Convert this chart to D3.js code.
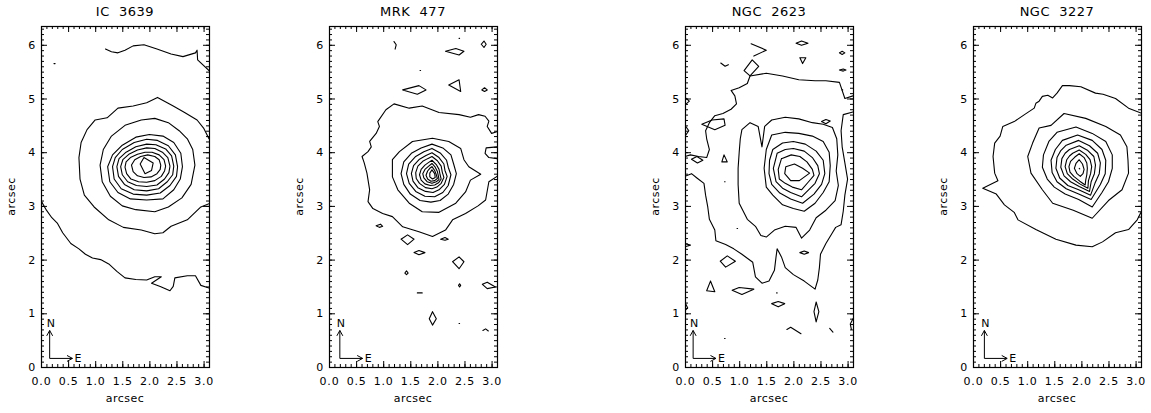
<!DOCTYPE html>
<html>
<head>
<meta charset="utf-8">
<script src="https://cdn.jsdelivr.net/npm/d3@7"></script>
<style>
  body { margin: 0; background: #fff; }
  svg { display: block; }
  text { font-family: "DejaVu Sans", "Liberation Sans", sans-serif; fill: #000; }
</style>
</head>
<body>
<div id="chart"></div>
<script>
// panel titles and tick values
var titles = ["IC  3639", "MRK  477", "NGC  2623", "NGC  3227"];
var xTicks = [0, 0.5, 1, 1.5, 2, 2.5, 3];
var yTicks = [0, 1, 2, 3, 4, 5, 6];

// contour lines, in arcsec [x, y]
var ic3639 = [
  [[1.19,5.92],[1.3,5.87],[1.42,5.85],[1.55,5.9],[1.7,5.98],[1.9,6.0],[2.14,5.92],[2.4,5.83],[2.62,5.78],[2.85,5.85],[2.88,5.9],[2.89,5.72],[3.1,5.52]],
  [[0.24,5.65],[0.26,5.65]],
  [[0,3.1],[0.1,2.92],[0.2,2.78],[0.3,2.68],[0.4,2.5],[0.55,2.3],[0.7,2.2],[0.82,2.1],[0.95,2.03],[1.1,2.0],[1.25,1.92],[1.4,1.78],[1.55,1.66],[1.75,1.63],[1.95,1.62],[2.1,1.68],[2.22,1.68],[2.04,1.56],[2.2,1.5],[2.38,1.42],[2.44,1.5],[2.47,1.66],[2.7,1.7],[2.85,1.7],[2.95,1.52],[3.1,1.47]],
  [[3.1,4.25],[3.0,4.45],[2.88,4.6],[2.65,4.74],[2.44,4.86],[2.15,5.02],[1.95,4.92],[1.7,4.86],[1.42,4.82],[1.22,4.64],[1.0,4.6],[0.85,4.42],[0.74,4.18],[0.7,3.9],[0.72,3.5],[0.8,3.2],[0.98,2.98],[1.25,2.74],[1.52,2.6],[1.85,2.55],[2.1,2.48],[2.25,2.5],[2.4,2.62],[2.7,2.74],[2.95,2.98],[3.1,3.04]],
  [[2.84,3.76],[2.8,4.05],[2.7,4.25],[2.55,4.4],[2.35,4.55],[2.1,4.63],[1.85,4.6],[1.55,4.5],[1.3,4.3],[1.15,4.05],[1.09,3.76],[1.13,3.45],[1.28,3.18],[1.5,3.0],[1.75,2.93],[2.1,2.89],[2.35,2.98],[2.6,3.15],[2.77,3.4],[2.84,3.76]],
  [[2.61,3.73],[2.58,3.98],[2.45,4.18],[2.25,4.3],[2.0,4.33],[1.75,4.28],[1.5,4.13],[1.32,3.95],[1.23,3.73],[1.27,3.45],[1.42,3.25],[1.65,3.13],[1.95,3.11],[2.25,3.13],[2.45,3.3],[2.57,3.5],[2.61,3.73]],
  [[2.52,3.73],[2.48,3.95],[2.35,4.12],[2.15,4.22],[1.95,4.24],[1.72,4.18],[1.5,4.05],[1.37,3.9],[1.32,3.73],[1.35,3.5],[1.48,3.32],[1.7,3.22],[1.95,3.2],[2.2,3.24],[2.38,3.38],[2.5,3.55],[2.52,3.73]],
  [[2.45,3.74],[2.41,3.93],[2.3,4.06],[2.12,4.14],[1.95,4.15],[1.75,4.1],[1.57,4.0],[1.44,3.88],[1.4,3.73],[1.43,3.55],[1.54,3.4],[1.72,3.3],[1.95,3.28],[2.17,3.32],[2.33,3.45],[2.43,3.58],[2.45,3.74]],
  [[2.38,3.74],[2.34,3.9],[2.24,4.0],[2.1,4.07],[1.95,4.08],[1.78,4.04],[1.62,3.96],[1.51,3.86],[1.47,3.73],[1.5,3.58],[1.6,3.45],[1.76,3.38],[1.95,3.36],[2.14,3.39],[2.28,3.5],[2.36,3.62],[2.38,3.74]],
  [[2.3,3.74],[2.27,3.86],[2.18,3.95],[2.05,4.0],[1.92,4.0],[1.78,3.96],[1.65,3.9],[1.57,3.82],[1.55,3.72],[1.58,3.6],[1.66,3.5],[1.8,3.45],[1.95,3.44],[2.1,3.47],[2.22,3.55],[2.28,3.65],[2.3,3.74]],
  [[2.21,3.76],[2.18,3.86],[2.1,3.92],[1.97,3.95],[1.84,3.92],[1.73,3.86],[1.67,3.76],[1.7,3.64],[1.78,3.56],[1.9,3.53],[2.03,3.54],[2.14,3.6],[2.2,3.68],[2.21,3.76]],
  [[1.9,3.9],[2.07,3.8],[2.04,3.66],[1.92,3.6],[1.83,3.78],[1.9,3.9]]
];

var mrk477 = [
  [[3.1,4.38],[3.0,4.35],[2.92,4.48],[2.95,4.58],[2.88,4.67],[2.76,4.7],[2.61,4.65],[2.4,4.7],[2.03,4.74],[1.72,4.86],[1.48,4.82],[1.2,4.9],[1.05,4.79],[0.9,4.57],[0.93,4.48],[0.87,4.35],[0.75,4.2],[0.78,4.1],[0.72,4.01],[0.61,3.92],[0.65,3.8],[0.7,3.61],[0.75,3.3],[0.72,3.08],[0.81,2.95],[0.99,2.86],[1.17,2.8],[1.36,2.61],[1.66,2.52],[1.91,2.43],[2.15,2.55],[2.28,2.74],[2.52,2.86],[2.75,3.0],[2.89,3.11],[2.95,3.45],[3.1,3.55]],
  [[3.1,4.1],[2.9,4.08],[2.88,3.98],[2.95,3.9],[3.1,3.88]],
  [[1.91,4.26],[2.21,4.2],[2.43,4.07],[2.49,3.86],[2.58,3.73],[2.8,3.59],[2.61,3.48],[2.52,3.26],[2.34,3.05],[2.03,2.88],[1.72,2.89],[1.48,3.05],[1.27,3.3],[1.17,3.54],[1.17,3.86],[1.3,4.01],[1.54,4.2],[1.91,4.26]],
  [[1.9,4.15],[2.1,4.08],[2.25,3.95],[2.3,3.78],[2.35,3.6],[2.3,3.4],[2.2,3.22],[2.05,3.1],[1.88,3.07],[1.68,3.1],[1.5,3.22],[1.38,3.4],[1.33,3.6],[1.38,3.82],[1.52,3.98],[1.7,4.08],[1.9,4.15]],
  [[1.9,4.07],[2.06,3.98],[2.17,3.85],[2.2,3.72],[2.25,3.58],[2.2,3.38],[2.1,3.25],[1.95,3.17],[1.77,3.18],[1.6,3.27],[1.48,3.42],[1.43,3.6],[1.47,3.78],[1.6,3.92],[1.75,4.01],[1.9,4.07]],
  [[1.9,3.99],[2.03,3.9],[2.12,3.78],[2.14,3.66],[2.18,3.55],[2.13,3.4],[2.03,3.3],[1.92,3.25],[1.78,3.27],[1.64,3.34],[1.55,3.46],[1.52,3.6],[1.56,3.75],[1.67,3.87],[1.79,3.94],[1.9,3.99]],
  [[1.9,3.92],[2.0,3.84],[2.07,3.74],[2.09,3.63],[2.12,3.53],[2.07,3.42],[1.99,3.35],[1.9,3.32],[1.78,3.34],[1.67,3.42],[1.61,3.51],[1.6,3.62],[1.64,3.74],[1.73,3.83],[1.82,3.88],[1.9,3.92]],
  [[1.9,3.85],[1.98,3.77],[2.03,3.68],[2.05,3.58],[2.07,3.5],[2.02,3.43],[1.95,3.39],[1.87,3.38],[1.77,3.41],[1.7,3.48],[1.67,3.58],[1.7,3.68],[1.77,3.76],[1.84,3.81],[1.9,3.85]],
  [[1.9,3.79],[1.96,3.72],[2.0,3.64],[2.02,3.55],[2.03,3.49],[1.98,3.45],[1.9,3.42],[1.81,3.45],[1.75,3.52],[1.73,3.6],[1.77,3.68],[1.84,3.74],[1.9,3.79]],
  [[1.9,3.73],[1.95,3.66],[1.98,3.58],[2.0,3.51],[1.95,3.47],[1.88,3.46],[1.82,3.5],[1.79,3.57],[1.82,3.65],[1.86,3.7],[1.9,3.73]],
  [[1.9,3.67],[1.95,3.6],[1.96,3.53],[1.91,3.5],[1.86,3.54],[1.86,3.61],[1.9,3.67]],
  [[1.2,6.06],[1.24,6.0],[1.22,5.92]],
  [[2.4,6.12],[2.41,6.12]],
  [[2.15,5.88],[2.34,5.93],[2.49,5.88],[2.4,5.81],[2.15,5.88]],
  [[2.81,6.01],[2.86,6.07],[2.9,6.01],[2.86,5.95],[2.81,6.01]],
  [[1.68,5.52],[1.69,5.52]],
  [[1.36,5.16],[1.66,5.24],[1.79,5.16],[1.63,5.08],[1.36,5.16]],
  [[2.21,5.25],[2.4,5.35],[2.43,5.13],[2.21,5.25]],
  [[2.82,5.16],[2.87,5.2],[2.92,5.16],[2.87,5.13],[2.82,5.16]],
  [[0.87,2.63],[0.95,2.66],[0.99,2.62],[0.93,2.6],[0.87,2.63]],
  [[1.33,2.38],[1.45,2.46],[1.57,2.38],[1.45,2.28],[1.33,2.38]],
  [[1.57,2.13],[1.66,2.17],[1.77,2.13],[1.66,2.09],[1.57,2.13]],
  [[2.06,2.38],[2.14,2.41],[2.2,2.38],[2.14,2.36],[2.06,2.38]],
  [[2.28,1.96],[2.4,2.05],[2.49,1.96],[2.4,1.83],[2.28,1.96]],
  [[1.4,1.75],[1.43,1.79],[1.46,1.75],[1.43,1.72],[1.4,1.75]],
  [[2.39,1.52],[2.41,1.55],[2.43,1.52],[2.41,1.49],[2.39,1.52]],
  [[1.63,1.38],[1.72,1.38]],
  [[2.83,1.54],[2.92,1.58],[3.07,1.49],[2.92,1.46],[2.83,1.54]],
  [[1.91,1.03],[1.98,0.9],[1.91,0.78],[1.85,0.9],[1.91,1.03]],
  [[2.4,0.81],[2.41,0.81]],
  [[2.84,0.68],[2.89,0.71],[2.94,0.67]]
];

var ngc2623 = [
  [[1.86,3.73],[2.02,3.78],[2.17,3.7],[2.3,3.61],[2.11,3.47],[1.95,3.47],[1.84,3.6],[1.86,3.73]],
  [[1.78,3.88],[1.96,3.95],[2.12,3.92],[2.25,3.82],[2.35,3.68],[2.38,3.57],[2.28,3.45],[2.15,3.3],[1.98,3.35],[1.85,3.42],[1.74,3.5],[1.72,3.68],[1.78,3.88]],
  [[1.7,3.98],[1.85,4.05],[2.0,4.07],[2.2,4.02],[2.35,3.9],[2.45,3.75],[2.48,3.6],[2.4,3.42],[2.28,3.3],[2.15,3.17],[1.95,3.25],[1.8,3.33],[1.68,3.45],[1.63,3.7],[1.7,3.98]],
  [[1.62,4.05],[1.8,4.17],[2.0,4.2],[2.22,4.15],[2.42,4.02],[2.55,3.85],[2.58,3.6],[2.52,3.4],[2.38,3.22],[2.17,3.05],[1.95,3.13],[1.75,3.24],[1.6,3.4],[1.55,3.6],[1.56,3.85],[1.62,4.05]],
  [[1.6,4.32],[1.85,4.37],[2.1,4.35],[2.35,4.3],[2.55,4.2],[2.66,4.0],[2.68,3.75],[2.66,3.45],[2.55,3.25],[2.4,3.05],[2.2,2.9],[2.0,2.95],[1.8,3.02],[1.62,3.2],[1.5,3.35],[1.46,3.7],[1.5,4.05],[1.6,4.32]],
  [[2.52,4.57],[2.6,4.61],[2.68,4.58],[2.6,4.53],[2.52,4.57]],
  [[1.05,4.42],[1.2,4.55],[1.35,4.48],[1.42,4.1],[1.47,4.48],[1.6,4.6],[1.85,4.65],[2.1,4.62],[2.35,4.55],[2.55,4.52],[2.72,4.46],[2.8,4.25],[2.82,3.95],[2.79,3.65],[2.83,3.38],[2.77,3.1],[2.6,2.92],[2.42,2.78],[2.3,2.55],[2.15,2.4],[2.05,2.6],[1.85,2.62],[1.65,2.55],[1.5,2.42],[1.4,2.45],[1.3,2.62],[1.15,2.75],[1.0,3.05],[0.98,3.4],[0.98,3.7],[1.0,4.0],[1.02,4.25],[1.05,4.42]],
  [[0,3.55],[0.12,3.6],[0.22,3.52],[0.35,3.42],[0.38,3.2],[0.42,2.98],[0.45,2.75],[0.55,2.55],[0.57,2.35],[0.75,2.28],[0.9,2.2],[1.05,2.1],[1.25,1.95],[1.3,1.68],[1.42,1.56],[1.55,1.6],[1.65,1.8],[1.68,2.05],[1.7,2.2],[1.78,2.05],[1.85,1.85],[2.0,1.72],[2.2,1.6],[2.4,1.45],[2.45,1.62],[2.48,1.85],[2.5,2.1],[2.6,2.3],[2.72,2.5],[2.78,2.6],[2.88,2.65],[2.92,2.9],[2.95,3.2],[3.0,3.5],[2.95,3.8],[2.9,4.1],[2.88,4.4],[2.92,4.7],[3.1,4.75]],
  [[3.1,5.05],[2.95,5.0],[2.85,5.3],[2.6,5.33],[2.4,5.33],[2.1,5.35],[1.8,5.42],[1.5,5.47],[1.2,5.42],[1.15,5.28],[1.0,5.2],[0.85,5.15],[0.92,5.05],[0.95,4.9],[0.85,4.8],[0.7,4.72],[0.55,4.68],[0.45,4.55],[0.38,4.4],[0.4,4.25],[0.45,4.05],[0.4,3.9],[0.25,3.92],[0.1,3.95],[0,3.92]],
  [[2.05,6.03],[2.15,6.07],[2.27,6.03],[2.15,5.99],[2.05,6.03]],
  [[2.12,5.76],[2.23,5.76],[2.17,5.65],[2.12,5.76]],
  [[2.85,5.85],[2.9,5.88],[2.95,5.85],[2.9,5.82],[2.85,5.85]],
  [[2.85,5.53],[2.92,5.55],[2.97,5.53],[2.92,5.51],[2.85,5.53]],
  [[2.9,5.16],[2.91,5.16]],
  [[1.22,6.02],[1.5,5.9],[1.27,5.79]],
  [[0.66,5.66],[0.74,5.6],[0.8,5.63]],
  [[1.09,5.52],[1.24,5.72],[1.36,5.6],[1.2,5.42],[1.09,5.52]],
  [[0,5.02],[0.08,4.95],[0,4.88]],
  [[0,4.5],[0.07,4.4],[0,4.3]],
  [[0.31,4.52],[0.5,4.6],[0.72,4.62],[0.74,4.5],[0.55,4.42],[0.31,4.52]],
  [[0.12,3.87],[0.22,3.92],[0.33,3.85],[0.23,3.8],[0.12,3.87]],
  [[0.68,3.82],[0.72,3.95],[0.78,3.82],[0.68,3.82]],
  [[0.73,3.45],[0.74,3.45]],
  [[0.96,2.58],[0.97,2.58]],
  [[0,2.3],[0.1,2.27],[0,2.24]],
  [[2.12,2.13],[2.2,2.16],[2.28,2.13],[2.2,2.1],[2.12,2.13]],
  [[0.65,1.97],[0.78,2.07],[0.93,1.97],[0.75,1.86],[0.65,1.97]],
  [[0.47,1.6],[0.55,1.4],[0.4,1.42],[0.47,1.6]],
  [[0.87,1.43],[1.0,1.48],[1.27,1.45],[1.05,1.35],[0.87,1.43]],
  [[1.6,1.18],[1.72,1.22],[1.84,1.18],[1.72,1.12],[1.6,1.18]],
  [[1.69,1.38],[1.7,1.38]],
  [[2.42,1.21],[2.47,1.03],[2.42,0.84],[2.38,1.03],[2.42,1.21]],
  [[1.88,0.7],[1.95,0.74],[2.14,0.62]],
  [[2.67,0.72],[2.73,0.65]],
  [[3.1,0.9],[3.05,0.8],[3.07,0.7]],
  [[0,1.2],[0.05,1.1],[0,1.05]],
  [[0.73,0.53],[0.74,0.53]]
];

var ngc3227 = [
  [[3.1,4.73],[2.87,4.82],[2.63,5.0],[2.4,5.08],[2.26,5.1],[1.99,5.22],[1.78,5.24],[1.65,5.24],[1.55,5.1],[1.47,5.01],[1.38,5.06],[1.28,5.04],[1.22,4.95],[1.16,4.91],[1.13,4.82],[0.95,4.7],[0.76,4.57],[0.55,4.48],[0.5,4.3],[0.4,4.17],[0.37,3.92],[0.4,3.61],[0.46,3.47],[0.18,3.33],[0.43,3.22],[0.58,3.02],[0.76,2.88],[0.83,2.74],[1.16,2.56],[1.53,2.38],[1.9,2.27],[2.2,2.24],[2.39,2.33],[2.63,2.5],[2.87,2.56],[3.03,2.74],[3.1,2.88]],
  [[1.68,4.72],[2.08,4.63],[2.45,4.48],[2.72,4.32],[2.84,4.1],[2.86,3.85],[2.87,3.61],[2.75,3.3],[2.5,3.1],[2.2,2.77],[1.85,2.92],[1.47,3.05],[1.28,3.3],[1.07,3.61],[1.01,3.92],[1.1,4.17],[1.22,4.45],[1.44,4.5],[1.68,4.72]],
  [[1.55,4.37],[1.9,4.47],[2.2,4.35],[2.45,4.2],[2.57,3.95],[2.57,3.7],[2.5,3.45],[2.38,3.25],[2.2,2.98],[1.95,3.12],[1.7,3.22],[1.5,3.35],[1.37,3.5],[1.28,3.72],[1.3,3.95],[1.4,4.2],[1.55,4.37]],
  [[1.65,4.22],[1.93,4.32],[2.2,4.22],[2.38,4.05],[2.45,3.85],[2.44,3.6],[2.35,3.4],[2.18,3.12],[1.95,3.22],[1.72,3.32],[1.55,3.45],[1.46,3.62],[1.44,3.85],[1.52,4.05],[1.65,4.22]],
  [[1.72,4.13],[1.95,4.22],[2.15,4.12],[2.3,3.98],[2.35,3.8],[2.33,3.6],[2.25,3.42],[2.17,3.2],[1.95,3.3],[1.75,3.38],[1.6,3.52],[1.53,3.7],[1.55,3.9],[1.62,4.03],[1.72,4.13]],
  [[1.78,4.05],[1.96,4.12],[2.12,4.03],[2.23,3.92],[2.26,3.76],[2.24,3.6],[2.18,3.45],[2.15,3.27],[1.96,3.36],[1.8,3.45],[1.68,3.56],[1.62,3.72],[1.64,3.88],[1.7,3.98],[1.78,4.05]],
  [[1.84,3.98],[1.96,4.04],[2.08,3.96],[2.16,3.86],[2.19,3.73],[2.17,3.6],[2.13,3.47],[2.12,3.33],[1.97,3.41],[1.84,3.5],[1.74,3.6],[1.7,3.73],[1.73,3.86],[1.78,3.93],[1.84,3.98]],
  [[1.88,3.91],[1.96,3.97],[2.05,3.9],[2.1,3.8],[2.11,3.7],[2.1,3.58],[2.08,3.48],[2.07,3.39],[1.97,3.46],[1.86,3.55],[1.79,3.63],[1.77,3.73],[1.8,3.83],[1.88,3.91]],
  [[1.96,3.86],[2.02,3.78],[2.05,3.68],[2.03,3.6],[1.98,3.55],[1.92,3.6],[1.87,3.7],[1.9,3.79],[1.96,3.86]],
  [[1.96,3.7],[1.97,3.69]]
];

// corner of the N/E compass in each panel, arcsec
var compassX = [0.16, 0.2, 0.15, 0.21];
var compassY = 0.16;

var panels = [ic3639, mrk477, ngc2623, ngc3227];

// layout of the four boxes
var panelLeft = [41, 329, 685, 973];
var boxW = 168, boxTop = 26, boxBottom = 367;

var svg = d3.select("#chart").append("svg")
    .attr("width", 1151)
    .attr("height", 413);

titles.forEach(function (title, i) {
    var left = panelLeft[i];
    var x = d3.scaleLinear().domain([0, 3.1]).range([left, left + boxW]);
    var y = d3.scaleLinear().domain([0, 6.35]).range([boxBottom, boxTop]);

    var g = svg.append("g");

    g.append("clipPath").attr("id", "clip" + i)
        .append("rect")
        .attr("x", left).attr("y", boxTop)
        .attr("width", boxW).attr("height", boxBottom - boxTop);

    var line = d3.line()
        .x(function (d) { return x(d[0]); })
        .y(function (d) { return y(d[1]); });

    // contours
    g.append("g").attr("clip-path", "url(#clip" + i + ")")
        .selectAll("path")
        .data(panels[i])
        .enter().append("path")
        .attr("d", line)
        .attr("fill", "none")
        .attr("stroke", "#000")
        .attr("stroke-width", 1.1)
        .attr("stroke-linejoin", "round")
        .attr("stroke-linecap", "round");

    // axes, ticks pointing inward
    var xMinor = d3.range(0, 3.101, 0.1);
    var yMinor = d3.range(0, 6.301, 0.1);

    g.append("g").attr("transform", "translate(0," + boxBottom + ")")
        .call(d3.axisBottom(x).tickValues(xMinor).tickFormat("").tickSize(-3));
    g.append("g").attr("transform", "translate(0," + boxBottom + ")")
        .call(d3.axisBottom(x).tickValues(xTicks).tickFormat(d3.format(".1f")).tickSize(-6).tickPadding(10));
    g.append("g").attr("transform", "translate(0," + boxTop + ")")
        .call(d3.axisTop(x).tickValues(xMinor).tickFormat("").tickSize(-3));
    g.append("g").attr("transform", "translate(0," + boxTop + ")")
        .call(d3.axisTop(x).tickValues(xTicks).tickFormat("").tickSize(-6));

    g.append("g").attr("transform", "translate(" + left + ",0)")
        .call(d3.axisLeft(y).tickValues(yMinor).tickFormat("").tickSize(-3));
    g.append("g").attr("transform", "translate(" + left + ",0)")
        .call(d3.axisLeft(y).tickValues(yTicks).tickFormat(d3.format("d")).tickSize(-6).tickPadding(5));
    g.append("g").attr("transform", "translate(" + (left + boxW) + ",0)")
        .call(d3.axisRight(y).tickValues(yMinor).tickFormat("").tickSize(-3));
    g.append("g").attr("transform", "translate(" + (left + boxW) + ",0)")
        .call(d3.axisRight(y).tickValues(yTicks).tickFormat("").tickSize(-6));

    g.selectAll(".domain").remove();
    g.selectAll(".tick line").attr("stroke", "#000").attr("stroke-width", 1);
    g.selectAll(".tick text")
        .attr("font-size", 11)
        .attr("letter-spacing", 0.8)
        .style("font-family", "'DejaVu Sans', sans-serif");

    // box
    g.append("rect")
        .attr("x", left + 0.5).attr("y", boxTop + 0.5)
        .attr("width", boxW).attr("height", boxBottom - boxTop)
        .attr("fill", "none").attr("stroke", "#000").attr("stroke-width", 1.2);

    // title
    g.append("text")
        .attr("x", left + boxW / 2).attr("y", 16)
        .attr("text-anchor", "middle")
        .attr("font-size", 13)
        .attr("letter-spacing", 0.5)
        .style("white-space", "pre")
        .text(title);

    // axis titles
    g.append("text")
        .attr("x", left + boxW / 2).attr("y", 402)
        .attr("text-anchor", "middle")
        .attr("font-size", 11)
        .attr("letter-spacing", 0.5)
        .text("arcsec");
    g.append("text")
        .attr("transform", "translate(" + (left - 26) + "," + ((boxTop + boxBottom) / 2) + ") rotate(-90)")
        .attr("text-anchor", "middle")
        .attr("font-size", 11)
        .attr("letter-spacing", 0.5)
        .text("arcsec");

    // N / E compass
    var cx = compassX[i], cy = compassY;
    var arrows = [
        [[cx, cy], [cx, cy + 0.52]],
        [[cx - 0.055, cy + 0.42], [cx, cy + 0.52], [cx + 0.055, cy + 0.42]],
        [[cx, cy], [cx + 0.42, cy]],
        [[cx + 0.32, cy + 0.055], [cx + 0.42, cy], [cx + 0.32, cy - 0.055]]
    ];
    g.append("g").selectAll("path")
        .data(arrows)
        .enter().append("path")
        .attr("d", line)
        .attr("fill", "none")
        .attr("stroke", "#000")
        .attr("stroke-width", 1);
    g.append("text")
        .attr("x", x(cx + 0.02)).attr("y", y(cy + 0.66))
        .attr("text-anchor", "middle")
        .attr("dy", "0.35em")
        .attr("font-size", 11)
        .text("N");
    g.append("text")
        .attr("x", x(cx + 0.46)).attr("y", y(cy))
        .attr("dy", "0.35em")
        .attr("font-size", 11)
        .text("E");
});
</script>
</body>
</html>
